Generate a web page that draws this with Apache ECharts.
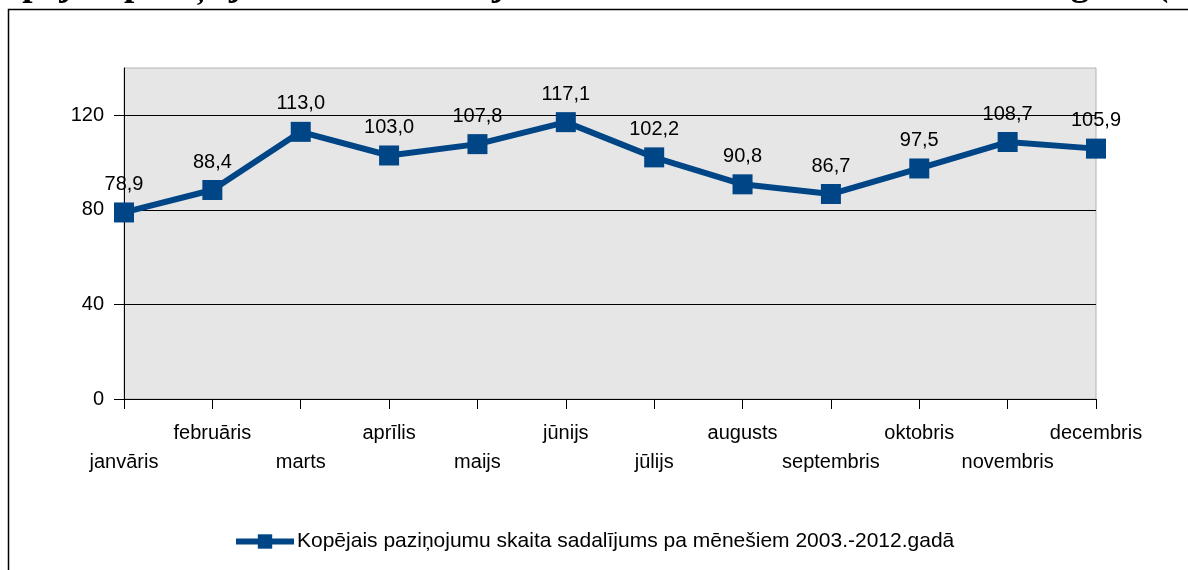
<!DOCTYPE html>
<html>
<head>
<meta charset="utf-8">
<script src="https://cdn.jsdelivr.net/npm/echarts@6/dist/echarts.min.js"></script>
<style>
  html, body { margin: 0; padding: 0; background: #fff; }
  #chart { width: 1188px; height: 570px; }
</style>
</head>
<body>
<div id="chart"></div>
<script>
// mēneši
const months = ['janvāris', 'februāris', 'marts', 'aprīlis', 'maijs', 'jūnijs',
  'jūlijs', 'augusts', 'septembris', 'oktobris', 'novembris', 'decembris']
// sezonalitātes indekss
const indexValues = [78.9, 88.4, 113.0, 103.0, 107.8, 117.1, 102.2, 90.8, 86.7, 97.5, 108.7, 105.9]
const yTicks = [0, 40, 80, 120]
const seriesName = 'Kopējais paziņojumu skaita sadalījums pa mēnešiem 2003.-2012.gadā'
const titleText = 'Kopējais paziņojumu skaita vidējais sezonalitātes indekss 2003.-2012.gadā (%)'

const myChart = echarts.init(document.getElementById('chart'))
const blue = '#004586'
const font = 'Liberation Sans'

const option = {
  animation: false,
  textStyle: { fontFamily: font },
  graphic: [
    { // ārējais rāmis
      type: 'rect',
      shape: { x: 8.5, y: 9.5, width: 1300, height: 700 },
      style: { fill: 'none', stroke: '#000', lineWidth: 1.5 }
    },
    { // nogrieztais virsraksts
      type: 'text',
      x: -25,
      y: 4,
      style: {
        text: titleText,
        font: 'bold 37px "Liberation Serif"',
        fill: '#000',
        textVerticalAlign: 'bottom'
      }
    }
  ],
  grid: {
    left: 124,
    right: 92,
    top: 68,
    height: 331,
    show: true,
    backgroundColor: '#e6e6e6',
    borderColor: '#b3b3b3',
    borderWidth: 1
  },
  legend: {
    left: 228,
    top: 526,
    itemWidth: 58,
    itemHeight: 18,
    itemGap: 4,
    lineStyle: { width: 6 },
    textStyle: { fontSize: 21, color: '#000', fontFamily: font, padding: [0, 0, 0, -2] },
    data: [seriesName]
  },
  xAxis: {
    type: 'category',
    boundaryGap: false,
    data: months,
    axisLine: { lineStyle: { color: '#000', width: 1 } },
    axisTick: { length: 10, lineStyle: { color: '#000' } },
    axisLabel: {
      interval: 0,
      margin: 20,
      color: '#000',
      fontSize: 20,
      lineHeight: 29,
      formatter: (v, i) => (i % 2 === 0 ? '\n' + v : v)
    },
    splitLine: { show: false }
  },
  yAxis: {
    type: 'value',
    min: 0,
    max: 140,
    interval: 40,
    axisLine: { show: true, lineStyle: { color: '#000', width: 1 } },
    axisTick: { show: true, length: 10, customValues: yTicks, lineStyle: { color: '#000' } },
    axisLabel: { customValues: yTicks, margin: 20, color: '#000', fontSize: 20 },
    splitLine: { show: true, lineStyle: { color: '#000', width: 1 } }
  },
  series: [
    {
      name: seriesName,
      type: 'line',
      data: indexValues,
      symbol: 'rect',
      symbolSize: 20,
      lineStyle: { color: blue, width: 6 },
      itemStyle: { color: blue },
      label: {
        show: true,
        position: 'top',
        distance: 8,
        color: '#000',
        fontSize: 20,
        formatter: p => p.value.toFixed(1).replace('.', ',')
      }
    }
  ]
}
myChart.setOption(option)
</script>
</body>
</html>
